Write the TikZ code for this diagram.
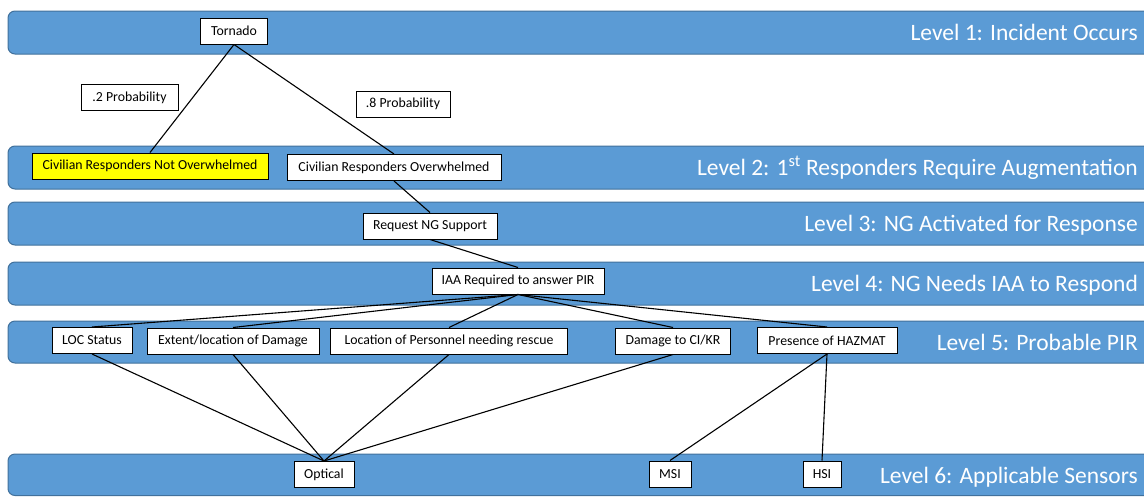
\documentclass[tikz,border=0pt]{standalone}
\usepackage{fontspec}
\setmainfont{Carlito}
\definecolor{bandfill}{HTML}{5B9BD5}
\definecolor{bandedge}{HTML}{41719C}
\definecolor{hilite}{HTML}{FFFF00}
\begin{document}
\begin{tikzpicture}[x=1pt,y=-1pt,
  band/.style={fill=bandfill,draw=bandedge,line width=1pt,rounded corners=7pt},
  bandlabel/.style={anchor=base east,inner sep=0pt,text=white,font=\fontsize{23.5}{28}\selectfont},
  box/.style={draw=black,fill=white,line width=1pt,minimum height=26pt,inner sep=0pt,font=\fontsize{13.8}{16}\selectfont},
  link/.style={draw=black,line width=1.1pt}]
\useasboundingbox (0,0) rectangle (1144,496);
\clip (0,0) rectangle (1144,496);

% level bands
\path[band] (8,11)  rectangle (1170,54);
\path[band] (8,146) rectangle (1170,189);
\path[band] (8,202) rectangle (1170,245);
\path[band] (8,262) rectangle (1170,305);
\path[band] (8,321) rectangle (1170,363);
\path[band] (8,454) rectangle (1170,495.5);

% level captions
\node[bandlabel] (lv1) at (1138,40.3)  {Level 1: Incident Occurs};
\node[bandlabel] (lv2) at (1138,175.3) {Level 2: 1\textsuperscript{st} Responders Require Augmentation};
\node[bandlabel] (lv3) at (1138,231.3) {Level 3: NG Activated for Response};
\node[bandlabel] (lv4) at (1138,291.3) {Level 4: NG Needs IAA to Respond};
\node[bandlabel] (lv5) at (1138,350)   {Level 5: Probable PIR};
\node[bandlabel] (lv6) at (1138,483)   {Level 6: Applicable Sensors};

% decision tree boxes
\node[box,minimum width=67pt]  (tornado) at (234,31)    {Tornado};
\node[box,minimum width=97pt]  (ptwo)    at (129.5,97.5) {.2 Probability};
\node[box,minimum width=94pt]  (peight)  at (403,104)   {.8 Probability};
\node[box,minimum width=236pt,fill=hilite] (notover) at (150,166) {Civilian Responders Not Overwhelmed};
\node[box,minimum width=214pt] (over)    at (394,167.5) {Civilian Responders Overwhelmed};
\node[box,minimum width=134pt] (request) at (430,226)   {Request NG Support};
\node[box,minimum width=172pt] (iaa)     at (518,281)   {IAA Required to answer PIR};
\node[box,minimum width=80pt]  (loc)     at (92,340.5)  {LOC Status};
\node[box,minimum width=172pt] (extent)  at (233,341)   {Extent/location of Damage};
\node[box,minimum width=237pt] (pers)    at (449,341)   {Location of Personnel needing rescue};
\node[box,minimum width=115pt] (cikr)    at (673,341)   {Damage to CI/KR};
\node[box,minimum width=140pt] (hazmat)  at (827,340.5) {Presence of HAZMAT};
\node[box,minimum width=60pt]  (optical) at (324,474.5) {Optical};
\node[box,minimum width=42pt]  (msi)     at (670,474)   {MSI};
\node[box,minimum width=38pt]  (hsi)     at (822,474)   {HSI};

% connectors
\draw[link] (tornado.south) -- (notover.north);
\draw[link] (tornado.south) -- (over.north);
\draw[link] (over.south) -- (request.north);
\draw[link] (request.south) -- (iaa.north);
\foreach \t in {loc,extent,pers,cikr,hazmat}
  \draw[link] (iaa.south) -- (\t.north);
\foreach \t in {loc,extent,pers,cikr}
  \draw[link] (\t.south) -- (optical.north);
\draw[link] (hazmat.south) -- (msi.north);
\draw[link] (hazmat.south) -- (hsi.north);
\end{tikzpicture}
\end{document}
